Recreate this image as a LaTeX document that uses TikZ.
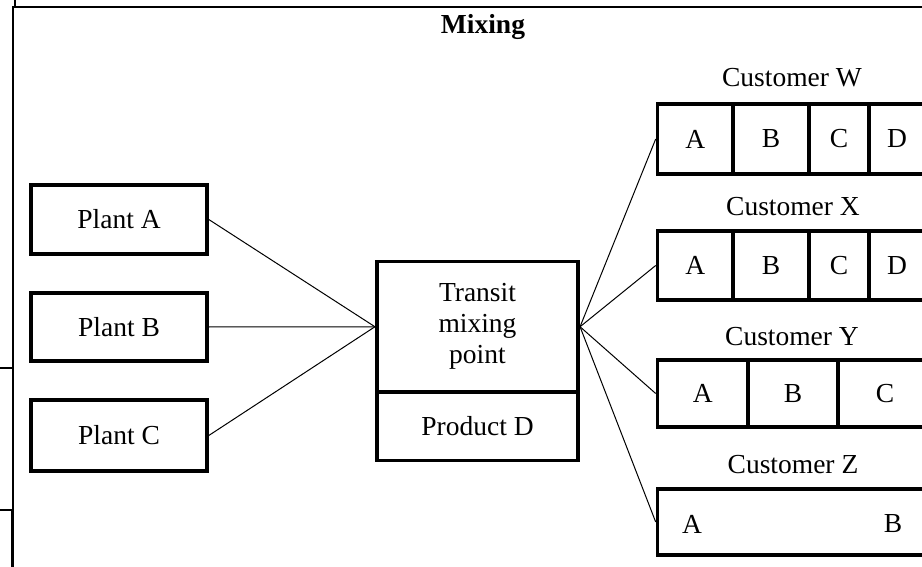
\documentclass[tikz,border=0pt]{standalone}
\usepackage{fontspec}
\setmainfont{Liberation Serif}
\begin{document}
\begin{tikzpicture}[x=1pt,y=-1pt,
  box/.style={draw, line width=3.6pt, inner sep=0pt, align=center,
    font=\fontsize{27.5}{31}\selectfont},
  cell/.style={draw, line width=3.6pt, inner sep=0pt,
    font=\fontsize{27.5}{31}\selectfont},
  lbl/.style={inner sep=0pt, font=\fontsize{27.5}{31}\selectfont},
  link/.style={line width=1pt},
  frame/.style={line width=2.8pt}]
\useasboundingbox (0,0) rectangle (922,567);
\clip (0,0) rectangle (922,567);
% frame
\draw[frame] (13,567) -- (13,7) -- (922,7);
\draw[frame] (15,0) -- (15,7);
\draw[frame] (0,368) -- (13,368);
\draw[frame] (0,510) -- (13,510);
\draw[line width=3.4pt] (12.5,510) -- (12.5,567);
% title
\node[lbl, font=\fontsize{27.5}{31}\selectfont\bfseries] (title) at (483,27) {Mixing};
% plants
\node[box, minimum width=176, minimum height=69] (plantA) at (119,219.5) {Plant A};
\node[box, minimum width=176, minimum height=68] (plantB) at (119,327) {Plant B};
\node[box, minimum width=176, minimum height=71] (plantC) at (119,435.5) {Plant C};
% transit
\node[box, minimum width=201.5, minimum height=130.5] (transit) at (477.5,326.75) {Transit\\mixing\\point};
\node[box, minimum width=201.5, minimum height=68.5] (prodD) at (477.5,426.25) {Product D};
% customer W
\node[lbl] (tW) at (792,78) {Customer W};
\node[cell, minimum width=75.5, minimum height=70.5] (wA) at (695.25,139) {A};
\node[cell, minimum width=76, minimum height=70.5] (wB) at (771,139) {B};
\node[cell, minimum width=60, minimum height=70.5] (wC) at (839,139) {C};
\node[cell, minimum width=56, minimum height=70.5] (wD) at (897,139) {D};
% customer X
\node[lbl] (tX) at (793,207) {Customer X};
\node[cell, minimum width=75.5, minimum height=69.5] (xA) at (695.25,265.5) {A};
\node[cell, minimum width=76, minimum height=69.5] (xB) at (771,265.5) {B};
\node[cell, minimum width=60, minimum height=69.5] (xC) at (839,265.5) {C};
\node[cell, minimum width=56, minimum height=69.5] (xD) at (897,265.5) {D};
% customer Y
\node[lbl] (tY) at (792,337) {Customer Y};
\node[cell, minimum width=90.5, minimum height=67.5] (yA) at (702.75,393.5) {A};
\node[cell, minimum width=90, minimum height=67.5] (yB) at (793,393.5) {B};
\node[cell, minimum width=94, minimum height=67.5] (yC) at (885,393.5) {C};
% customer Z
\node[lbl] (tZ) at (793,465) {Customer Z};
\node[cell, minimum width=280, minimum height=66.5] (zBox) at (797.5,522) {};
\node[lbl] (zA) at (692,524) {A};
\node[lbl] (zB) at (893,524) {B};
% connectors
\draw[link] (plantA.east) -- (transit.west);
\draw[link] (plantB.east) -- (transit.west);
\draw[link] (plantC.east) -- (transit.west);
\draw[link] (transit.east) -- (wA.west);
\draw[link] (transit.east) -- (xA.west);
\draw[link] (transit.east) -- (yA.west);
\draw[link] (transit.east) -- (zBox.west);
\end{tikzpicture}
\end{document}
